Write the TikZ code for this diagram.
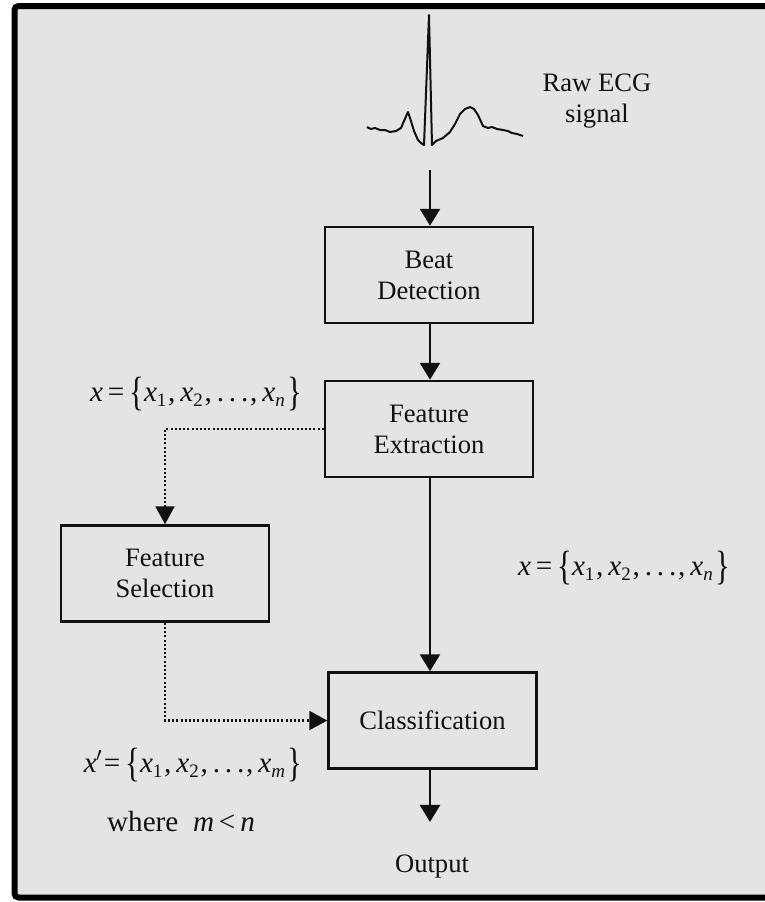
\documentclass[tikz,border=0pt]{standalone}
\usepackage{fontspec}
\setmainfont{Liberation Serif}
\usetikzlibrary{arrows.meta}
\definecolor{panel}{HTML}{E4E4E4}
\definecolor{ink}{HTML}{111111}

% italic variable, small lowered subscript, tall brace
\newcommand\vx{\textit{x}}
\newcommand\sbs[1]{\raisebox{-0.35ex}{\fontsize{9.5pt}{9.5pt}\selectfont #1}}
\newcommand\tallbr[1]{\raisebox{-0.14em}{\scalebox{1.05}[1.4]{#1}}}
\newcommand\cm{\kern0.06em,\,}
\newcommand\setof[1]{\tallbr{\{}\vx\sbs{1}\cm\vx\sbs{2}\cm.\,.\,.\cm\vx\sbs{#1}\kern0.08em\tallbr{\}}}

\begin{document}
\begin{tikzpicture}[x=0.5pt,y=-0.5pt,
  every node/.style={text=ink, font=\fontsize{13.3pt}{15.5pt}\selectfont},
  block/.style={draw=ink, line width=1.25pt, minimum width=104pt,
    minimum height=48pt, align=center, inner sep=0pt},
  label/.style={inner sep=0pt},
  setlabel/.style={inner sep=0pt, font=\fontsize{14.6pt}{16pt}\selectfont},
  arr/.style={draw=ink, line width=1.3pt,
    -{Triangle[width=10pt,length=8.5pt]}},
  dotarr/.style={draw=ink, line width=1.1pt, dash pattern=on 1pt off 1.1pt,
    -{Triangle[width=9.5pt,length=9pt]}},
  wave/.style={draw=ink, line width=1pt, line join=round}]

\useasboundingbox (0,0) rectangle (765,902);

% panel with heavy frame
\draw[line width=3pt, fill=panel, rounded corners=2pt]
  (14.5,6) rectangle (800,897.5);

% raw ECG trace
\draw[wave] (367,127) -- (371,129) -- (375,128) -- (380,130) -- (385,130)
  -- (390,132) -- (396,131) -- (401,128) -- (404,121) -- (408,112)
  -- (411,121) -- (414,131) -- (418,140) -- (421,143) -- (424,145)
  -- (429,15) -- (432,145) -- (436,141) -- (443,138) -- (450,132)
  -- (455,124) -- (460,114) -- (465,109) -- (470,107) -- (474,109)
  -- (478,115) -- (483,126) -- (488,128) -- (492,127) -- (497,129)
  -- (503,130) -- (508,131) -- (512,133) -- (517,134) -- (523,136);

\node[label, align=center] (raw) at (597,101) {Raw ECG\\signal};
\coordinate (sig) at (430,170);

% processing blocks
\node[block] (bd) at (429,275) {Beat\\Detection};
\node[block] (fe) at (429,429) {Feature\\Extraction};
\node[block] (fs) at (165,573.5) {Feature\\Selection};
\node[block] (cl) at (432.5,720.5) {Classification};
\node[label, anchor=base] (out) at (432,872) {Output};

% main flow
\draw[arr] (sig) -- (sig |- bd.north);
\draw[arr] (bd.south -| sig) -- (sig |- fe.north);
\draw[arr] (fe.south -| sig) -- (sig |- cl.north);
\draw[arr] (cl.south -| sig) -- ([yshift=16pt]out.north -| sig);

% feature selection branch
\draw[dotarr] (fe.west) -| (fs.north);
\draw[dotarr] (fs.south) |- (cl.west);

% feature set labels
\node[setlabel] (xl) at (196,394) {\vx\,=\,\setof{\textit{n}}};
\node[setlabel] (xr) at (624,568) {\vx\,=\,\setof{\textit{n}}};
\node[setlabel] (xs) at (193,765) {\vx\kern-0.03em$'$\kern0.05em=\,\setof{\textit{m}}};
\node[setlabel] (wh) at (181,822) {where\ \ \textit{m}\,<\,\textit{n}};

\end{tikzpicture}
\end{document}
